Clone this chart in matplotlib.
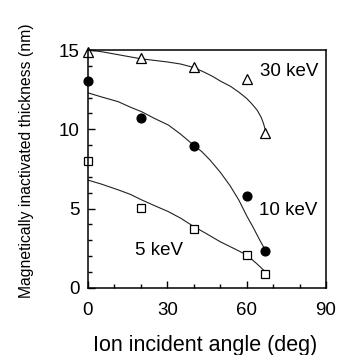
import numpy as np
import matplotlib
matplotlib.use("Agg")
import matplotlib.pyplot as plt
from matplotlib.ticker import MultipleLocator

plt.rcParams['font.family'] = ['Liberation Sans', 'DejaVu Sans']

# measured points
ang = [0, 20, 40, 60, 67]
t30 = [14.9, 14.5, 13.9, 13.15, 9.75]
t10 = [13.05, 10.7, 8.97, 5.8, 2.3]
t5 = [8.0, 5.02, 3.7, 2.08, 0.88]

# fitted curves
c30_x = [0, 5, 10, 15, 20, 25, 30, 35, 40, 44, 47, 50, 54, 57, 60, 62, 64, 65.5, 66.3, 67, 67.3]
c30_y = [15.0, 14.9, 14.75, 14.6, 14.45, 14.35, 14.25, 14.12, 13.9, 13.6, 13.35, 13.05,
         12.7, 12.35, 11.95, 11.6, 11.2, 10.75, 10.4, 10.0, 9.75]
c10_x = [0, 5, 11.5, 16, 20.3, 25, 30.4, 35, 39.6, 43, 46.1, 50, 53.7, 57, 60, 62.5, 65, 67.5]
c10_y = [12.3, 12.05, 11.74, 11.4, 11.11, 10.7, 10.27, 9.7, 9.05, 8.6, 8.07, 7.3,
         6.45, 5.55, 4.55, 3.8, 3.0, 2.25]
c5_x = [0, 5, 11.5, 16, 20.3, 25, 30.4, 35, 39.7, 45, 49.9, 55, 60, 64, 67.5]
c5_y = [6.8, 6.55, 6.18, 5.9, 5.55, 5.2, 4.81, 4.4, 3.9, 3.4, 2.92, 2.5, 2.08, 1.5, 0.95]

fig = plt.figure(figsize=(3.45, 3.55), dpi=100)
ax = fig.add_axes([0.255, 0.189, 0.69, 0.67])

ax.plot(c30_x, c30_y, color='#222222', lw=0.8)
ax.plot(c10_x, c10_y, color='#222222', lw=0.8)
ax.plot(c5_x, c5_y, color='#222222', lw=0.8)

ax.plot(ang, t30, ls='none', marker='^', ms=7, mfc='white', mec='black', mew=0.9, clip_on=False)
ax.plot(ang, t10, ls='none', marker='o', ms=6.3, mfc='black', mec='black', clip_on=False)
ax.plot(ang, t5, ls='none', marker='s', ms=6, mfc='white', mec='black', mew=0.9, clip_on=False)

ax.text(65, 13.63, '30 keV', fontsize=13.5, va='center', ha='left')
ax.text(64.8, 4.87, '10 keV', fontsize=13.5, va='center', ha='left')
ax.text(17.8, 2.39, '5 keV', fontsize=13.5, va='center', ha='left')

ax.set_xlim(0, 90)
ax.set_ylim(0, 15)
ax.set_xticks([0, 30, 60, 90])
ax.set_yticks([0, 5, 10, 15])
ax.xaxis.set_minor_locator(MultipleLocator(10))
ax.yaxis.set_minor_locator(MultipleLocator(1))
ax.tick_params(which='both', direction='in', top=False, right=False, labelsize=13.5)
ax.tick_params(which='major', length=5, width=1)
ax.tick_params(which='minor', length=3, width=1)
ax.tick_params(axis='x', pad=10)
ax.tick_params(axis='y', pad=6)
for s in ax.spines.values():
    s.set_linewidth(1.1)

fig.text(0.594, 0.026, 'Ion incident angle (deg)', fontsize=15.5, ha='center', va='center')
fig.text(0.078, 0.547, 'Magnetically inactivated thickness (nm)', fontsize=11.3,
         rotation=90, ha='center', va='center')

fig.savefig('out.png', dpi=100)
